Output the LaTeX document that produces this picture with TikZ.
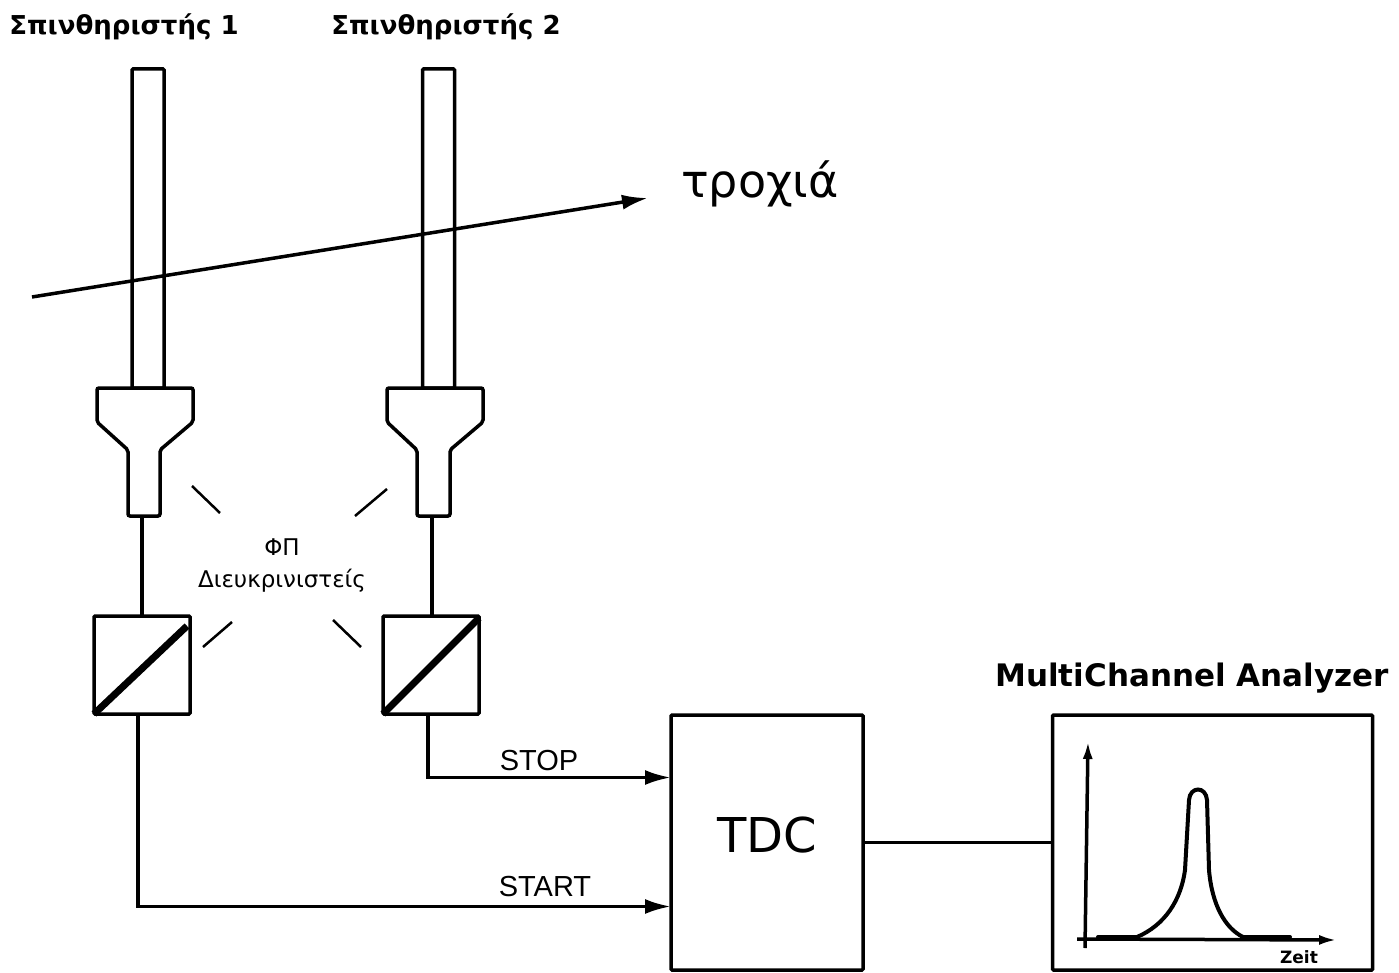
\documentclass[tikz,border=0pt]{standalone}
\usepackage{fontspec}
\setmainfont{DejaVu Sans}
\newfontfamily\labelfont{Liberation Sans}
\usetikzlibrary{arrows.meta, positioning}

\begin{document}
\begin{tikzpicture}
  [
    x=1pt, y=-1pt,
    line width=3.5pt,
    Scint/.style={rectangle, draw=black, minimum width=32pt, minimum height=319pt, inner sep=0pt, outer sep=0pt, rounded corners=1pt},
    Disc/.style={rectangle, draw=black, minimum width=96pt, minimum height=98pt, inner sep=0pt, outer sep=0pt, rounded corners=1pt},
    Box/.style={rectangle, draw=black, inner sep=0pt, outer sep=0pt, rounded corners=1pt},
    Title/.style={font=\fontsize{26}{30}\selectfont\bfseries, inner sep=0pt},
    Small/.style={font=\labelfont\fontsize{29}{33}\selectfont, inner sep=0pt},
    Tip/.style={-{Latex[length=26pt, width=15pt]}}
  ]
  \useasboundingbox (0, 0) rectangle (1399, 973);
  % Nodes
  \node[Title] (t1) at(124, 27) {Σπινθηριστής 1};
  \node[Title] (t2) at(446, 27) {Σπινθηριστής 2};
  \node[Title, font=\fontsize{31}{35}\selectfont\bfseries] (t3) at(1192, 678) {MultiChannel Analyzer};
  \node[font=\fontsize{46}{52}\selectfont, inner sep=0pt] (track) at(760, 184) {τροχιά};
  \node[Scint] (s1) at(148, 228.5) {};
  \node[Scint] (s2) at(438.5, 228.5) {};
  \node[Disc] (d1) at(142, 665) {};
  \node[Disc] (d2) at(431, 665) {};
  \node[Box, minimum width=192pt, minimum height=255pt] (tdc) at(767, 842.5) {};
  \node[font=\fontsize{48}{54}\selectfont, inner sep=0pt] (tdclabel) at(767, 835) {TDC};
  \node[Box, minimum width=320pt, minimum height=255pt] (mca) at(1212.5, 842.5) {};
  \node[font=\fontsize{23}{27}\selectfont, inner sep=0pt] (fp) at(282, 547) {ΦΠ};
  \node[font=\fontsize{23}{27}\selectfont, inner sep=0pt] (dis) at(282, 581) {Διευκρινιστείς};
  \node[Small] (stop) at(539, 761) {STOP};
  \node[Small] (start) at(545, 887) {START};
  \node[font=\fontsize{17}{20}\selectfont\bfseries, inner sep=0pt] (zeit) at(1299, 957) {Zeit};
  \coordinate (p1) at(142, 516);
  \coordinate (p2) at(432, 516);
  \coordinate (a) at(32, 297);
  \coordinate (b) at(648, 198);
  % Photomultipliers
  \draw[rounded corners=2pt] (97, 388) -- (193, 388) -- (193, 422) -- (160, 450) -- (160, 516) -- (128, 516) -- (128, 450) -- (97, 422) -- cycle;
  \draw[rounded corners=2pt] (387, 388) -- (483, 388) -- (483, 422) -- (450, 450) -- (450, 516) -- (417, 516) -- (417, 450) -- (387, 422) -- cycle;
  % Lines
  \path [draw] (p1) -- (p1 |- d1.north);
  \path [draw] (p2) -- (p2 |- d2.north);
  \path [draw, line width=7pt] (d1.south west) -- ([xshift=-3pt, yshift=-10pt]d1.north east);
  \path [draw, line width=7pt] (d2.south west) -- ([yshift=-2pt]d2.north east);
  \path [Tip, draw] ([xshift=-3pt]d2.south) |- ([yshift=65pt]tdc.west);
  \path [Tip, draw] ([xshift=-4pt]d1.south) |- ([yshift=-64pt]tdc.west);
  \path [draw] (tdc.east) -- (mca.west);
  \path [Tip, draw] (a) -- (b);
  % Ticks
  \foreach \xa/\ya/\xb/\yb in {192/486/220/513, 387/489/355/516, 232/622/203/647, 333/620/361/647}
    \draw[line width=2.5pt] (\xa, \ya) -- (\xb, \yb);
  % Spectrum
  \draw[-{Latex[length=18pt, width=10pt]}] (1085, 948) -- (1088, 741);
  \draw[-{Latex[length=18pt, width=10pt]}] (1077, 939) -- (1337, 940);
  \draw[line cap=round, line width=4pt] (1098, 937) -- (1137, 937) .. controls (1165, 925) and (1181, 900) .. (1185, 870) -- (1189, 800) .. controls (1190, 786) and (1206, 786) .. (1207, 800) -- (1209, 870) .. controls (1212, 905) and (1225, 928) .. (1243, 937) -- (1290, 937);
\end{tikzpicture}
\end{document}
